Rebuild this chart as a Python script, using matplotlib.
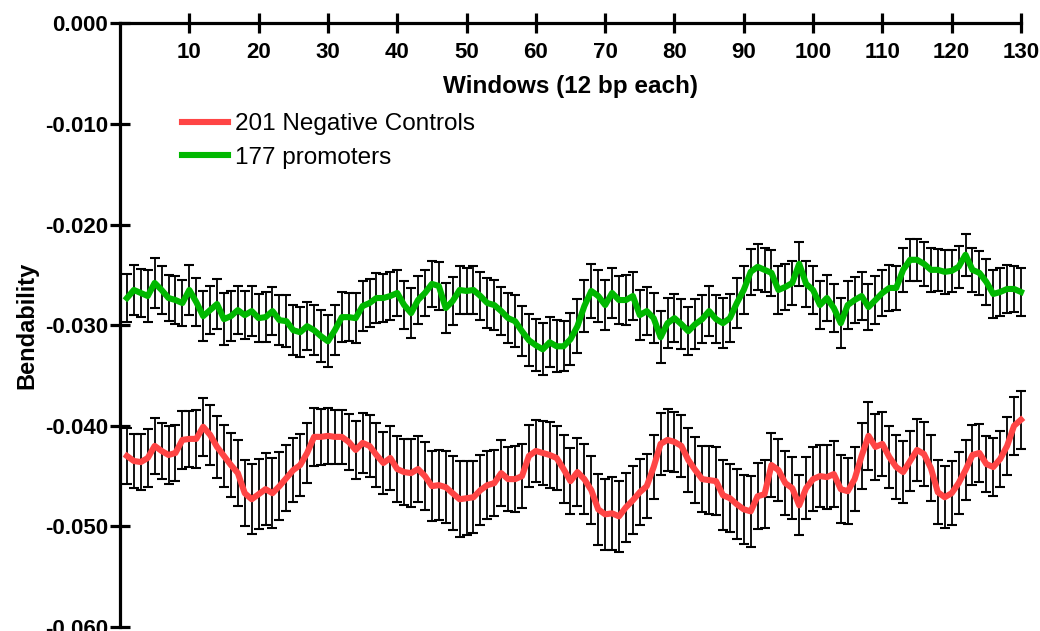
"""Bendability profile: promoters vs negative controls, 12 bp windows."""
import matplotlib
matplotlib.use("Agg")
import matplotlib.pyplot as plt
from matplotlib.ticker import FormatStrFormatter

plt.rcParams["font.family"] = ["Liberation Sans", "DejaVu Sans"]

windows = list(range(1, 131))

# mean bendability per window
promoters = [
    -0.0273, -0.0265, -0.0268, -0.0271, -0.0258, -0.0265, -0.0273, -0.0275, -0.0278, -0.0265,
    -0.0277, -0.0291, -0.0285, -0.0279, -0.0294, -0.0291, -0.0285, -0.0290, -0.0286, -0.0293,
    -0.0292, -0.0286, -0.0295, -0.0296, -0.0305, -0.0307, -0.0301, -0.0305, -0.0311, -0.0316,
    -0.0305, -0.0292, -0.0292, -0.0293, -0.0281, -0.0278, -0.0273, -0.0273, -0.0271, -0.0268,
    -0.0280, -0.0288, -0.0275, -0.0268, -0.0259, -0.0261, -0.0283, -0.0276, -0.0265, -0.0266,
    -0.0265, -0.0271, -0.0278, -0.0280, -0.0286, -0.0293, -0.0296, -0.0306, -0.0315, -0.0320,
    -0.0324, -0.0317, -0.0321, -0.0321, -0.0314, -0.0301, -0.0281, -0.0266, -0.0271, -0.0280,
    -0.0268, -0.0275, -0.0275, -0.0271, -0.0290, -0.0286, -0.0293, -0.0312, -0.0298, -0.0293,
    -0.0299, -0.0306, -0.0299, -0.0294, -0.0286, -0.0294, -0.0298, -0.0293, -0.0278, -0.0265,
    -0.0247, -0.0242, -0.0245, -0.0248, -0.0265, -0.0262, -0.0258, -0.0239, -0.0259, -0.0265,
    -0.0280, -0.0273, -0.0283, -0.0298, -0.0280, -0.0275, -0.0271, -0.0282, -0.0275, -0.0268,
    -0.0263, -0.0263, -0.0245, -0.0235, -0.0235, -0.0239, -0.0245, -0.0245, -0.0247, -0.0246,
    -0.0242, -0.0230, -0.0245, -0.0248, -0.0257, -0.0269, -0.0267, -0.0264, -0.0264, -0.0267,
]
promoters_err = [
    0.0024, 0.0025, 0.0024, 0.0026, 0.0025, 0.0024, 0.0023, 0.0024, 0.0023, 0.0025,
    0.0024, 0.0025, 0.0024, 0.0025, 0.0026, 0.0025, 0.0024, 0.0024, 0.0025, 0.0024,
    0.0025, 0.0024, 0.0025, 0.0026, 0.0025, 0.0025, 0.0024, 0.0025, 0.0026, 0.0026,
    0.0025, 0.0025, 0.0024, 0.0025, 0.0025, 0.0024, 0.0025, 0.0024, 0.0024, 0.0023,
    0.0024, 0.0025, 0.0024, 0.0023, 0.0023, 0.0024, 0.0025, 0.0024, 0.0024, 0.0023,
    0.0024, 0.0024, 0.0025, 0.0025, 0.0024, 0.0025, 0.0026, 0.0025, 0.0026, 0.0026,
    0.0026, 0.0025, 0.0026, 0.0025, 0.0026, 0.0027, 0.0026, 0.0027, 0.0026, 0.0025,
    0.0025, 0.0024, 0.0025, 0.0024, 0.0025, 0.0024, 0.0025, 0.0026, 0.0025, 0.0024,
    0.0025, 0.0024, 0.0025, 0.0024, 0.0025, 0.0024, 0.0025, 0.0024, 0.0025, 0.0024,
    0.0023, 0.0023, 0.0022, 0.0023, 0.0024, 0.0023, 0.0022, 0.0022, 0.0023, 0.0024,
    0.0024, 0.0023, 0.0024, 0.0025, 0.0024, 0.0023, 0.0024, 0.0023, 0.0024, 0.0023,
    0.0023, 0.0022, 0.0022, 0.0021, 0.0021, 0.0022, 0.0022, 0.0021, 0.0022, 0.0021,
    0.0021, 0.0021, 0.0022, 0.0022, 0.0023, 0.0024, 0.0024, 0.0024, 0.0023, 0.0024,
]
negatives = [
    -0.0430, -0.0435, -0.0436, -0.0432, -0.0420, -0.0425, -0.0429, -0.0427, -0.0414, -0.0413,
    -0.0413, -0.0401, -0.0409, -0.0421, -0.0430, -0.0439, -0.0447, -0.0467, -0.0473, -0.0468,
    -0.0463, -0.0467, -0.0460, -0.0452, -0.0444, -0.0439, -0.0427, -0.0411, -0.0411, -0.0410,
    -0.0411, -0.0411, -0.0416, -0.0424, -0.0417, -0.0420, -0.0429, -0.0437, -0.0432, -0.0443,
    -0.0446, -0.0447, -0.0443, -0.0450, -0.0460, -0.0459, -0.0461, -0.0467, -0.0473, -0.0472,
    -0.0471, -0.0464, -0.0459, -0.0457, -0.0447, -0.0453, -0.0453, -0.0450, -0.0430, -0.0425,
    -0.0427, -0.0429, -0.0432, -0.0443, -0.0455, -0.0446, -0.0453, -0.0464, -0.0483, -0.0488,
    -0.0487, -0.0490, -0.0481, -0.0474, -0.0466, -0.0460, -0.0441, -0.0418, -0.0414, -0.0416,
    -0.0420, -0.0434, -0.0444, -0.0453, -0.0454, -0.0455, -0.0469, -0.0472, -0.0478, -0.0483,
    -0.0485, -0.0470, -0.0468, -0.0439, -0.0444, -0.0457, -0.0462, -0.0479, -0.0462, -0.0453,
    -0.0450, -0.0451, -0.0448, -0.0463, -0.0465, -0.0453, -0.0430, -0.0410, -0.0421, -0.0418,
    -0.0431, -0.0441, -0.0446, -0.0435, -0.0424, -0.0428, -0.0442, -0.0466, -0.0471, -0.0467,
    -0.0457, -0.0444, -0.0429, -0.0427, -0.0438, -0.0441, -0.0433, -0.0420, -0.0400, -0.0394,
]
negatives_err = [
    0.0028, 0.0027, 0.0028, 0.0029, 0.0028, 0.0028, 0.0029, 0.0028, 0.0029, 0.0028,
    0.0029, 0.0029, 0.0030, 0.0031, 0.0031, 0.0032, 0.0033, 0.0033, 0.0035, 0.0035,
    0.0036, 0.0035, 0.0034, 0.0033, 0.0032, 0.0031, 0.0030, 0.0029, 0.0028, 0.0028,
    0.0027, 0.0027, 0.0028, 0.0029, 0.0030, 0.0031, 0.0032, 0.0031, 0.0032, 0.0033,
    0.0033, 0.0034, 0.0033, 0.0034, 0.0035, 0.0035, 0.0036, 0.0037, 0.0038, 0.0037,
    0.0036, 0.0035, 0.0034, 0.0033, 0.0033, 0.0032, 0.0033, 0.0032, 0.0031, 0.0031,
    0.0032, 0.0033, 0.0032, 0.0034, 0.0033, 0.0034, 0.0035, 0.0034, 0.0035, 0.0035,
    0.0036, 0.0035, 0.0034, 0.0034, 0.0033, 0.0032, 0.0032, 0.0031, 0.0031, 0.0030,
    0.0031, 0.0032, 0.0033, 0.0033, 0.0034, 0.0034, 0.0035, 0.0034, 0.0035, 0.0034,
    0.0035, 0.0033, 0.0034, 0.0032, 0.0031, 0.0032, 0.0031, 0.0030, 0.0031, 0.0032,
    0.0031, 0.0032, 0.0033, 0.0034, 0.0033, 0.0032, 0.0033, 0.0034, 0.0033, 0.0032,
    0.0031, 0.0032, 0.0031, 0.0030, 0.0031, 0.0032, 0.0033, 0.0032, 0.0031, 0.0032,
    0.0031, 0.0030, 0.0030, 0.0029, 0.0028, 0.0029, 0.0028, 0.0029, 0.0029, 0.0029,
]
x_ticks = list(range(10, 131, 10))
y_ticks = [0.0, -0.010, -0.020, -0.030, -0.040, -0.050, -0.060]

RED, GREEN = "#ff4545", "#00b800"

fig = plt.figure(figsize=(10.4, 6.31), dpi=100)
ax = fig.add_axes([0.1154, 0.0063, 0.8663, 0.9567])

for ys, es in [(negatives, negatives_err), (promoters, promoters_err)]:
    ax.errorbar(windows, ys, yerr=es, fmt="none", ecolor="black",
                elinewidth=1.3, capsize=3.6, capthick=1.5, zorder=2, clip_on=False)
ax.plot(windows, negatives, color=RED, lw=4.4, solid_joinstyle="round",
        label="201 Negative Controls", zorder=3, clip_on=False)
ax.plot(windows, promoters, color=GREEN, lw=4.4, solid_joinstyle="round",
        label="177 promoters", zorder=3, clip_on=False)

ax.set_xlim(0, 130)
ax.set_ylim(-0.060, 0.0)
for s in ["top", "right"]:
    ax.spines[s].set_visible(False)
ax.spines["bottom"].set_position(("data", 0))
for s in ["left", "bottom"]:
    ax.spines[s].set_linewidth(2.3)
ax.set_xticks(x_ticks)
ax.set_yticks(y_ticks)
ax.yaxis.set_major_formatter(FormatStrFormatter("%.3f"))
ax.tick_params(direction="inout", length=14, width=2.3, labelsize=16)
ax.tick_params(axis="x", pad=6.5)
ax.tick_params(axis="y", pad=1.5)
for lab in ax.get_xticklabels() + ax.get_yticklabels():
    lab.set_fontweight("bold")

ax.set_xlabel("Windows (12 bp each)", fontsize=17.5, fontweight="bold", labelpad=8.5)
ax.set_ylabel("Bendability", fontsize=17, fontweight="bold", labelpad=5)

ax.legend(loc="upper left", bbox_to_anchor=(0.0688, 0.851), frameon=False,
          fontsize=17.5, handlelength=1.9, handletextpad=0.3, labelspacing=0.48,
          borderpad=0, borderaxespad=0)

fig.savefig("out.png", dpi=100)
